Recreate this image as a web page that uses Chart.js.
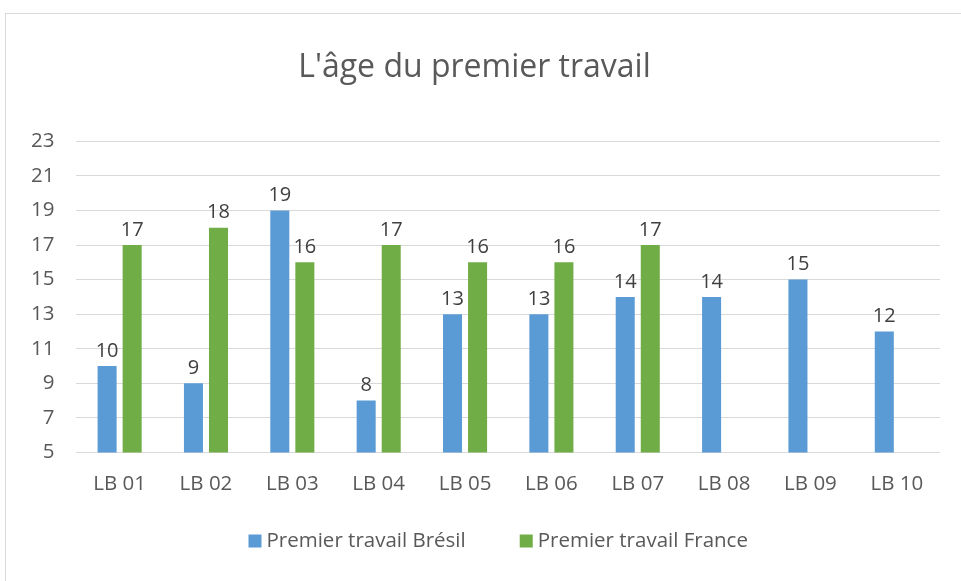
<!DOCTYPE html>
<html>
<head>
<meta charset="utf-8">
<script src="https://cdn.jsdelivr.net/npm/chart.js@4/dist/chart.umd.min.js"></script>
<style>
  html,body{margin:0;padding:0;background:#fff;overflow:hidden;}
  #frame{position:absolute;left:5px;top:13px;width:1000px;height:620px;border:1px solid #d9d9d9;}
  #box{position:absolute;left:0;top:0;width:961px;height:581px;}
</style>
</head>
<body>
<div id="frame"></div>
<div id="box"><canvas id="cv"></canvas></div>
<script>
const categories=["LB 01","LB 02","LB 03","LB 04","LB 05","LB 06","LB 07","LB 08","LB 09","LB 10"];
const bresil=[10,9,19,8,13,13,14,14,15,12];
const france=[17,18,16,17,16,16,17,null,null,null];
const seriesNames=["Premier travail Brésil","Premier travail France"];
const yTicks=[5,7,9,11,13,15,17,19,21,23];

const FONT="'Open Sans', sans-serif";

// draws the value above each bar
const valueLabels={
  id:'valueLabels',
  afterDatasetsDraw(chart){
    const ctx=chart.ctx;
    ctx.save();
    ctx.font="20px "+FONT;
    ctx.fillStyle="#404040";
    ctx.textAlign="center";
    ctx.textBaseline="bottom";
    chart.data.datasets.forEach((ds,i)=>{
      const meta=chart.getDatasetMeta(i);
      meta.data.forEach((el,j)=>{
        const v=ds.data[j];
        if(v==null)return;
        ctx.fillText(v,el.x,el.y-5);
      });
    });
    ctx.restore();
  }
};

// legend drawn by hand, excel spacing (wide gap between items)
const bottomLegend={
  id:'bottomLegend',
  afterDraw(chart){
    const ctx=chart.ctx;
    const ds=chart.data.datasets;
    ctx.save();
    ctx.font="20.5px "+FONT;
    ctx.textBaseline="middle";
    ctx.textAlign="left";
    const box=13,gap=5,between=54;
    let total=0;
    ds.forEach((d,i)=>{total+=box+gap+ctx.measureText(d.label).width;if(i>0)total+=between;});
    const a=chart.chartArea;
    let x=(a.left+a.right)/2-10-total/2;
    const y=chart.height-40;
    ds.forEach(d=>{
      ctx.fillStyle=d.backgroundColor;
      ctx.fillRect(x,y-box/2,box,box);
      x+=box+gap;
      ctx.fillStyle="#595959";
      ctx.fillText(d.label,x,y);
      x+=ctx.measureText(d.label).width+between;
    });
    ctx.restore();
  }
};

new Chart("cv",{
  type:"bar",
  data:{
    labels:categories,
    datasets:[
      {label:seriesNames[0],data:bresil,backgroundColor:"#5B9BD5",categoryPercentage:0.58,barPercentage:0.76},
      {label:seriesNames[1],data:france,backgroundColor:"#70AD47",categoryPercentage:0.58,barPercentage:0.76}
    ]
  },
  options:{
    responsive:true,
    maintainAspectRatio:false,
    animation:false,
    layout:{padding:{left:9,right:21,top:49,bottom:74}},
    plugins:{
      title:{display:true,text:"L'âge du premier travail",color:"#595959",
        font:{family:FONT,size:32,weight:'normal'},padding:{top:0,bottom:54}},
      legend:{display:false},
      tooltip:{enabled:false}
    },
    scales:{
      x:{
        grid:{display:false},
        border:{display:false},
        ticks:{color:"#595959",font:{family:FONT,size:20.5},padding:11}
      },
      y:{
        min:5,max:23,
        afterBuildTicks(axis){axis.ticks=yTicks.map(v=>({value:v}));},
        grid:{color:"#d9d9d9",drawTicks:false},
        border:{display:false},
        ticks:{color:"#595959",font:{family:FONT,size:20.5},padding:22}
      }
    }
  },
  plugins:[valueLabels,bottomLegend]
});
</script>
</body>
</html>
